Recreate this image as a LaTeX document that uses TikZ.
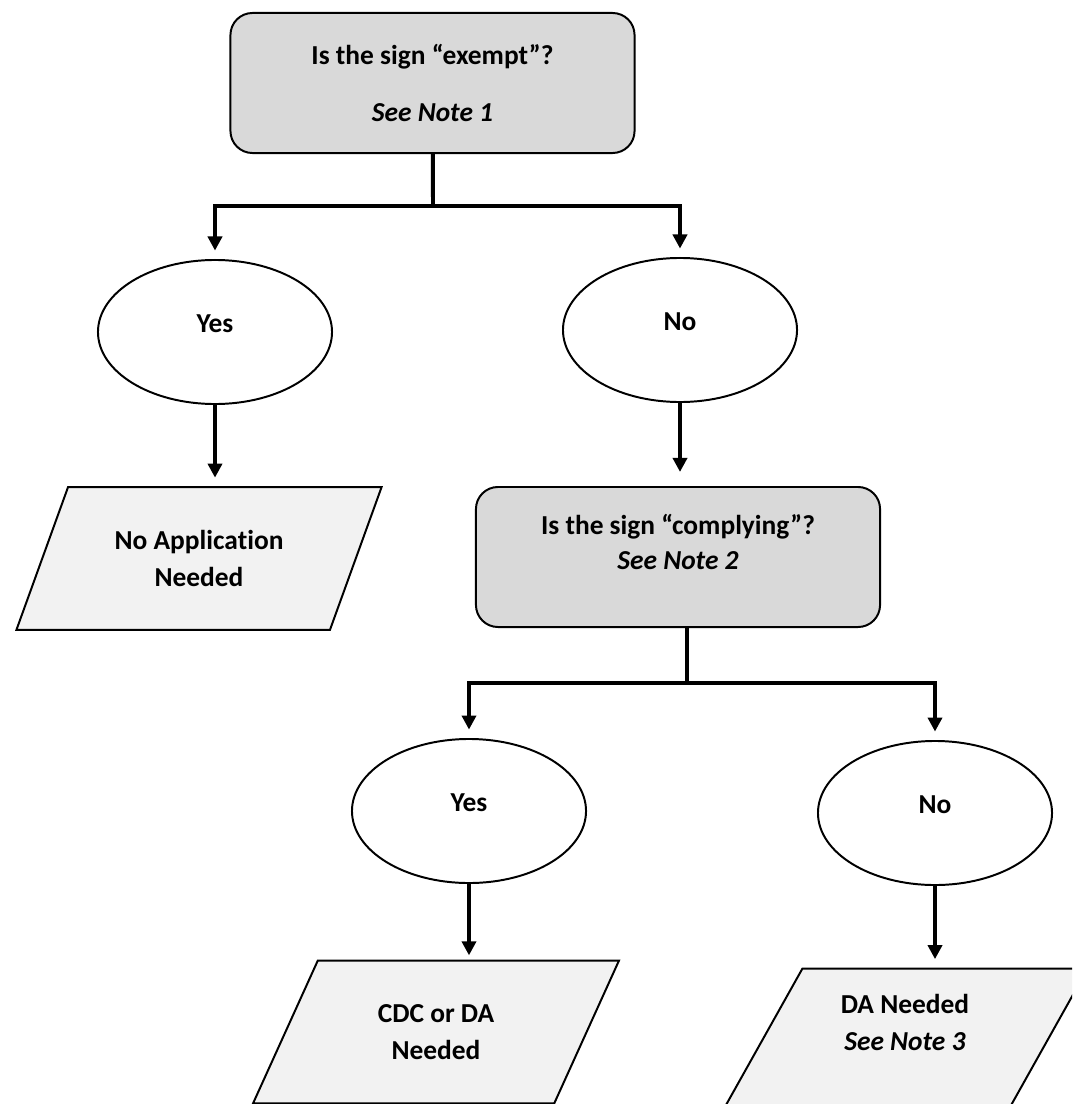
\documentclass[tikz,border=0pt]{standalone}
\usepackage{fontspec}
\setmainfont{Carlito}[Ligatures={TeX,NoCommon}]
\usepackage{tikz}
\usetikzlibrary{shapes,arrows.meta,calc}
\usepackage{color}
\definecolor{askgray}{HTML}{D9D9D9}
\definecolor{endgray}{HTML}{F2F2F2}
\tikzset{
  askbox/.style={draw,line width=1.4pt,fill=askgray,rounded corners=0.55cm,
    minimum width=10.1cm,minimum height=3.5cm,align=center,
    font=\bfseries\fontsize{19.5}{25}\selectfont},
  answer/.style={draw,ellipse,line width=1.4pt,minimum width=5.85cm,
    minimum height=3.6cm,inner sep=0pt,text height=13pt,text depth=13pt,
    font=\bfseries\fontsize{19.5}{25}\selectfont},
  outcome/.style={draw,trapezium,trapezium left angle=62,trapezium right angle=118,
    trapezium stretches=true,line width=1.4pt,fill=endgray,
    minimum width=9.15cm,minimum height=3.57cm,align=center,
    font=\bfseries\fontsize{19.5}{26.5}\selectfont},
  link/.style={line width=2.8pt},
  flow/.style={link,-{Triangle[width=10pt,length=10pt]},shorten >=6pt}
}
\begin{document}
\begin{tikzpicture}[x=0.025cm,y=-0.025cm]
\useasboundingbox (0,0) rectangle (1072,1104);
\clip (0,0) rectangle (1072,1104);
\node[askbox] (exempt) at (432.5,83) {Is the sign “exempt”?\\[15pt]\textit{See Note 1}};
\node[answer] (yesA) at (215,332) {Yes};
\node[answer] (noA) at (680,330) {No};
\node[outcome] (noapp) at (199,558.5) {No Application\\Needed};
\node[askbox,text depth=21pt] (comply) at (678,557) {Is the sign “complying”?\\\textit{See Note 2}};
\node[answer] (yesB) at (469,811) {Yes};
\node[answer] (noB) at (935,813) {No};
\node[outcome] (cdc) at (436,1032) {CDC or DA\\Needed};
\node[outcome,text depth=25pt] (da) at (905,1040) {DA Needed\\\textit{See Note 3}};
\coordinate (splitA) at (433,206);
\coordinate (splitB) at (687,683);
\draw[link] (exempt) -- (splitA);
\draw[flow] (splitA) -| (yesA.north);
\draw[flow] (splitA) -| (noA.north);
\draw[flow] (yesA) -- (yesA |- noapp.north);
\draw[flow,shorten >=10pt] (noA) -- (noA |- comply.north);
\draw[link] (splitB |- comply.south) -- (splitB);
\draw[flow] (splitB) -| (yesB.north);
\draw[flow] (splitB) -| (noB.north);
\draw[flow,shorten >=3pt] (yesB) -- (yesB |- cdc.north);
\draw[flow] (noB) -- (noB |- da.north);
\end{tikzpicture}
\end{document}
